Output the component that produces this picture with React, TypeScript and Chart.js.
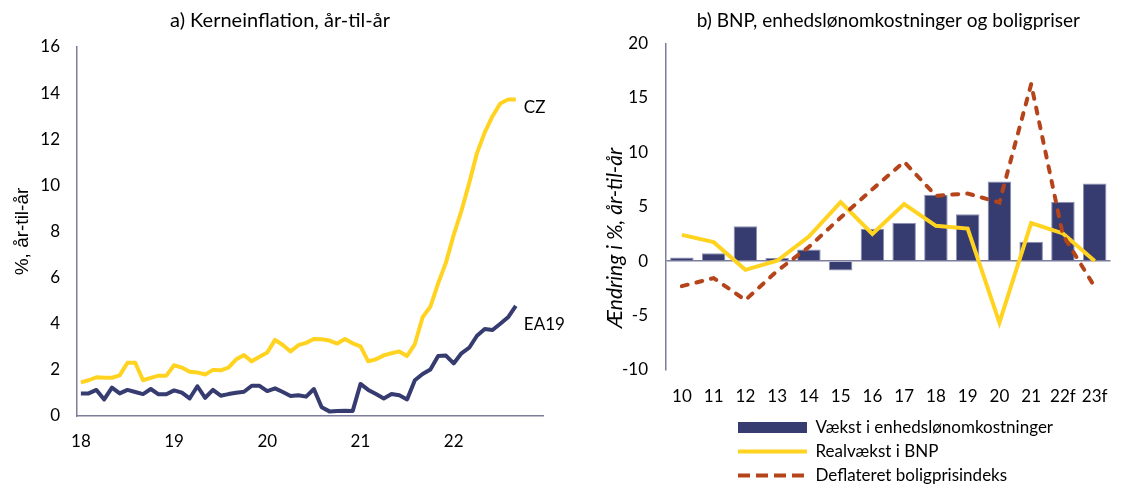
import React, { useEffect, useRef } from 'react';
import { Chart, registerables } from 'chart.js';

Chart.register(...registerables);

// ---------- Panel a: Kerneinflation ----------
const startYear = 2018;
const endYear = 2022;
const yearTickLabels = ['18', '19', '20', '21', '22'];
const monthCategories: string[] = [];
for (let y = startYear; y <= endYear; y++) {
  for (let m = 1; m <= 12; m++) monthCategories.push(`${y}-${m < 10 ? '0' + m : m}`);
}

const czCore = [
  1.46, 1.55, 1.68, 1.66, 1.66, 1.76, 2.31, 2.31, 1.55, 1.65, 1.75, 1.75,
  2.2, 2.1, 1.92, 1.89, 1.8, 2.0, 1.98, 2.1, 2.46, 2.64, 2.37, 2.57,
  2.75, 3.3, 3.08, 2.8, 3.07, 3.17, 3.34, 3.33, 3.27, 3.14, 3.34, 3.15,
  3.02, 2.37, 2.46, 2.63, 2.72, 2.8, 2.6, 3.12, 4.28, 4.74, 5.75, 6.65,
  7.85, 8.9, 10.1, 11.4, 12.3, 13.0, 13.55, 13.72, 13.72,
];

const ea19Core = [
  0.98, 0.98, 1.13, 0.72, 1.23, 0.98, 1.13, 1.04, 0.95, 1.17, 0.94, 0.94,
  1.11, 1.01, 0.76, 1.29, 0.79, 1.13, 0.88, 0.95, 1.01, 1.05, 1.31, 1.31,
  1.08, 1.2, 1.04, 0.87, 0.9, 0.84, 1.17, 0.38, 0.2, 0.22, 0.23, 0.22,
  1.39, 1.13, 0.95, 0.76, 0.95, 0.9, 0.72, 1.55, 1.82, 2.02, 2.6, 2.62,
  2.28, 2.72, 2.96, 3.48, 3.77, 3.73, 4.0, 4.28, 4.77,
];

const seriesNamesA = ['CZ', 'EA19'];

// ---------- Panel b: BNP, enhedslønomkostninger og boligpriser ----------
const yearsB = ['10', '11', '12', '13', '14', '15', '16', '17', '18', '19', '20', '21', '22f', '23f'];
const unitLabourCostGrowth = [0.34, 0.73, 3.2, 0.28, 1.07, -0.86, 2.97, 3.49, 6.09, 4.31, 7.31, 1.77, 5.45, 7.13];
const realGdpGrowth = [2.41, 1.74, -0.8, 0.03, 2.26, 5.42, 2.5, 5.23, 3.24, 2.99, -5.64, 3.49, 2.54, 0.0];
const realHousePriceIndex = [-2.3, -1.56, -3.58, -0.9, 1.3, 4.0, 6.6, 9.12, 6.0, 6.21, 5.38, 16.25, 2.4, -2.36];
const seriesNamesB = ['Vækst i enhedslønomkostninger', 'Realvækst i BNP', 'Deflateret boligprisindeks'];

const titleA = 'a) Kerneinflation, år-til-år';
const titleB = 'b) BNP, enhedslønomkostninger og boligpriser';
const yTitleA = '%, år-til-år';
const yTitleB = 'Ændring i %, år-til-år';

// ---------- Styles ----------
const FONT = 'Lato, "Open Sans", sans-serif';
const NAVY = '#363B70';
const YELLOW = '#FFD320';
const RED = '#B5441A';
const AXIS = '#7C7C9C';
const TEXT = '#000000';

const endLabelsPlugin = {
  id: 'endLabels',
  afterDatasetsDraw(chart: any) {
    const ctx = chart.ctx;
    const offsets = [8, 19];
    ctx.save();
    ctx.font = `17px ${FONT}`;
    ctx.fillStyle = TEXT;
    ctx.textAlign = 'left';
    ctx.textBaseline = 'middle';
    chart.data.datasets.forEach((ds: any, i: number) => {
      const meta = chart.getDatasetMeta(i);
      const pt = meta.data[meta.data.length - 1];
      if (!pt) return;
      ctx.fillText(ds.label, pt.x + 8, pt.y + offsets[i]);
    });
    ctx.restore();
  },
};

const rightAxisTitlePlugin = {
  id: 'rightAxisTitle',
  afterDraw(chart: any) {
    const ctx = chart.ctx;
    ctx.save();
    ctx.font = `italic 21px ${FONT}`;
    ctx.fillStyle = TEXT;
    ctx.textAlign = 'center';
    ctx.textBaseline = 'middle';
    ctx.translate(49, 238);
    ctx.rotate(-Math.PI / 2);
    ctx.fillText(yTitleB, 0, 0);
    ctx.restore();
  },
};

const legendShiftPlugin = {
  id: 'legendShift',
  afterLayout(chart: any) {
    const lg = chart.legend;
    if (!lg) return;
    lg.left += 65;
    lg.right += 65;
  },
};

function PanelA() {
  const ref = useRef<HTMLCanvasElement>(null);
  useEffect(() => {
    const chart = new Chart(ref.current!, {
      type: 'line',
      data: {
        labels: monthCategories,
        datasets: [
          { label: seriesNamesA[0], data: czCore, borderColor: YELLOW, borderWidth: 4, pointRadius: 0, tension: 0, borderJoinStyle: 'round' },
          { label: seriesNamesA[1], data: ea19Core, borderColor: NAVY, borderWidth: 4, pointRadius: 0, tension: 0, borderJoinStyle: 'round' },
        ],
      },
      options: {
        animation: false,
        responsive: false,
        maintainAspectRatio: false,
        layout: { padding: { left: 17, right: 23, top: 0, bottom: 0 } },
        plugins: {
          legend: { display: false },
          tooltip: { enabled: false },
          title: {
            display: true,
            text: titleA,
            color: TEXT,
            font: { family: FONT, size: 20, weight: 'normal' },
            padding: { top: 9, bottom: 14 },
          },
        },
        scales: {
          x: {
            offset: true,
            grid: { display: false, drawTicks: false },
            border: { display: true, color: AXIS, width: 1.5 },
            ticks: {
              autoSkip: false,
              maxRotation: 0,
              padding: 15,
              color: TEXT,
              font: { family: FONT, size: 17 },
              callback: (_v: any, i: number) => (i % 12 === 0 ? yearTickLabels[i / 12] : ''),
            },
            afterFit: (s: any) => { s.height = 68; },
          },
          y: {
            min: 0,
            max: 16,
            grid: { display: false, drawTicks: false },
            border: { display: true, color: AXIS, width: 1.5 },
            ticks: { stepSize: 2, padding: 17, color: TEXT, font: { family: FONT, size: 17 } },
            title: {
              display: true,
              text: yTitleA,
              color: TEXT,
              font: { family: '"Liberation Sans", Arial, sans-serif', size: 19 },
              padding: { top: -6, bottom: 0 },
            },
            afterFit: (s: any) => { s.width = 60; },
          },
        },
      },
      plugins: [endLabelsPlugin],
    } as any);
    return () => chart.destroy();
  }, []);
  return <canvas ref={ref} width={566} height={484} style={{ position: 'absolute', left: 0, top: 0 }} />;
}

function PanelB() {
  const ref = useRef<HTMLCanvasElement>(null);
  useEffect(() => {
    const legendStyles = [
      { fill: NAVY, stroke: NAVY, width: 0, dash: [] as number[], cap: 'butt', style: 'rect' },
      { fill: 'transparent', stroke: YELLOW, width: 4, dash: [] as number[], cap: 'butt', style: 'line' },
      { fill: 'transparent', stroke: RED, width: 4, dash: [12, 6], cap: 'butt', style: 'line' },
    ];
    const chart = new Chart(ref.current!, {
      type: 'bar',
      data: {
        labels: yearsB,
        datasets: [
          {
            type: 'bar',
            label: seriesNamesB[0],
            data: unitLabourCostGrowth,
            backgroundColor: NAVY,
            borderColor: '#8C90B2',
            borderWidth: 1,
            barPercentage: 0.74,
            categoryPercentage: 1,
            order: 3,
          },
          {
            type: 'line',
            label: seriesNamesB[1],
            data: realGdpGrowth,
            borderColor: YELLOW,
            borderWidth: 4,
            pointRadius: 0,
            tension: 0,
            order: 2,
          },
          {
            type: 'line',
            label: seriesNamesB[2],
            data: realHousePriceIndex,
            borderColor: RED,
            borderWidth: 4,
            borderDash: [6, 9],
            borderCapStyle: 'round',
            pointRadius: 0,
            tension: 0,
            order: 1,
          },
        ],
      },
      options: {
        animation: false,
        responsive: false,
        maintainAspectRatio: false,
        layout: { padding: { left: 0, right: 0, top: 0, bottom: 0 } },
        plugins: {
          tooltip: { enabled: false },
          title: {
            display: true,
            text: titleB,
            fullSize: false,
            color: TEXT,
            font: { family: FONT, size: 19, weight: 'normal' },
            padding: { top: 9.5, bottom: 11 },
          },
          legend: {
            display: true,
            position: 'bottom',
            align: 'start',
            fullSize: false,
            labels: {
              usePointStyle: true,
              pointStyleWidth: 69,
              boxHeight: 11,
              padding: 7,
              color: TEXT,
              font: { family: FONT, size: 17 },
              generateLabels: (c: any) =>
                c.data.datasets.map((ds: any, i: number) => ({
                  text: ds.label,
                  datasetIndex: i,
                  fillStyle: legendStyles[i].fill,
                  strokeStyle: legendStyles[i].stroke,
                  lineWidth: legendStyles[i].width,
                  lineDash: legendStyles[i].dash,
                  lineCap: legendStyles[i].cap,
                  pointStyle: legendStyles[i].style,
                  fontColor: TEXT,
                  hidden: false,
                })),
            },
          },
        },
        scales: {
          x: {
            offset: true,
            grid: { display: false, drawTicks: false },
            border: { display: false },
            ticks: { maxRotation: 0, autoSkip: false, padding: 16, color: TEXT, font: { family: FONT, size: 17 } },
            afterFit: (s: any) => { s.height = 42; },
          },
          y: {
            min: -10,
            max: 20,
            grid: {
              display: true,
              drawTicks: false,
              color: (ctx: any) => (ctx.tick && ctx.tick.value === 0 ? AXIS : 'transparent'),
              lineWidth: 1.5,
            },
            border: { display: true, color: AXIS, width: 1.5 },
            ticks: { stepSize: 5, padding: 18, color: TEXT, font: { family: FONT, size: 17 } },
            afterFit: (s: any) => { s.width = 100; },
          },
        },
      },
      plugins: [legendShiftPlugin, rightAxisTitlePlugin],
    } as any);
    return () => chart.destroy();
  }, []);
  return <canvas ref={ref} width={558} height={494} style={{ position: 'absolute', left: 566, top: 0 }} />;
}

export default function App() {
  return (
    <div style={{ position: 'absolute', left: 0, top: 0, width: 1124, height: 484, overflow: 'hidden', background: '#fff' }}>
      <PanelA />
      <PanelB />
    </div>
  );
}
